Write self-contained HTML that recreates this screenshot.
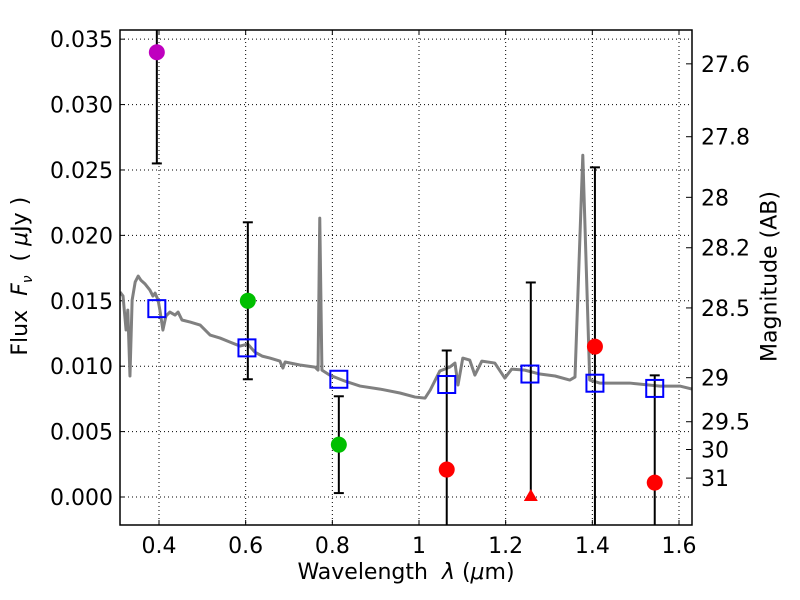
<!DOCTYPE html>
<html><head><meta charset="utf-8"><style>
html,body{margin:0;background:#fff;width:800px;height:600px;overflow:hidden}
svg{font-family:"DejaVu Sans","Liberation Sans",sans-serif;display:block}
</style></head><body>
<svg id="c" width="800" height="600"></svg>
<script>
const specLam=[0.310,0.317,0.324,0.328,0.333,0.338,0.345,0.352,0.358,0.368,0.379,0.386,0.391,0.398,0.402,0.409,0.416,0.425,0.437,0.444,0.453,0.472,0.495,0.518,0.541,0.564,0.587,0.605,0.621,0.638,0.656,0.679,0.686,0.691,0.725,0.760,0.767,0.771,0.776,0.794,0.829,0.864,0.910,0.956,0.991,1.014,1.026,1.048,1.071,1.083,1.090,1.101,1.117,1.129,1.145,1.175,1.198,1.214,1.244,1.279,1.314,1.348,1.360,1.378,1.394,1.417,1.486,1.556,1.602,1.630];
const specFlux=[0.01567,0.01536,0.01277,0.01429,0.00925,0.01505,0.01643,0.01689,0.01658,0.01628,0.01582,0.01536,0.01559,0.01505,0.01429,0.01276,0.01383,0.01414,0.01391,0.01414,0.01353,0.01337,0.01314,0.01238,0.01215,0.01184,0.01154,0.01169,0.01108,0.01077,0.01062,0.01039,0.00986,0.01032,0.01009,0.00993,0.00970,0.02132,0.00970,0.00932,0.00886,0.00848,0.00825,0.00795,0.00764,0.00756,0.00818,0.00963,0.00993,0.01024,0.00856,0.01062,0.01047,0.00932,0.01039,0.01024,0.00909,0.00978,0.00970,0.00940,0.00925,0.00894,0.00917,0.02613,0.00894,0.00871,0.00871,0.00848,0.00848,0.00825];
const modelLam=[0.395,0.603,0.815,1.064,1.256,1.406,1.544];
const modelFlux=[0.0144,0.0114,0.0090,0.0086,0.0094,0.0087,0.0083];
const obsLam=[0.395,0.605,0.815,1.064,1.258,1.406,1.544];
const obsFlux=[0.0340,0.0150,0.0040,0.0021,0.0000,0.0115,0.0011];
const obsErrUp=[0.0085,0.0060,0.0037,0.0091,0.0164,0.0137,0.0082];
const obsErrLo=[0.0085,0.0060,0.0037,0.0091,0.0,0.0137,0.0082];
const obsColor=['#bf00bf','#00bf00','#00bf00','#ff0000','#ff0000','#ff0000','#ff0000'];
const obsMarker=['o','o','o','o','^','o','o'];
const xTicks=[0.4,0.6,0.8,1.0,1.2,1.4,1.6];
const xTickLabels=['0.4','0.6','0.8','1','1.2','1.4','1.6'];
const yTicks=[0,0.005,0.010,0.015,0.020,0.025,0.030,0.035];
const yTickLabels=['0.000','0.005','0.010','0.015','0.020','0.025','0.030','0.035'];
const magTicks=[27.6,27.8,28,28.2,28.5,29,29.5,30,31];
const magTickLabels=['27.6','27.8','28','28.2','28.5','29','29.5','30','31'];

const L=120,R=692,T=30,B=525;
const X0=0.31,X1=1.63,Y0=-0.00214,Y1=0.0357;
const sx=v=>L+(v-X0)/(X1-X0)*(R-L);
const sy=v=>B-(v-Y0)/(Y1-Y0)*(B-T);
const svg=document.getElementById('c');
const NS='http://www.w3.org/2000/svg';
function mk(tag,attrs,parent){const e=document.createElementNS(NS,tag);for(const k in attrs)e.setAttribute(k,attrs[k]);(parent||svg).appendChild(e);return e;}
const clip=mk('clipPath',{id:'pc'});mk('rect',{x:L,y:T,width:R-L,height:B-T},clip);

xTicks.forEach((v,i)=>{
 const g=mk('line',{x1:sx(v),x2:sx(v),y1:T,y2:B,stroke:'#000','stroke-width':1,'stroke-dasharray':'1,3'});
 
 
 mk('line',{x1:sx(v),x2:sx(v),y1:B,y2:B-5,stroke:'#000'});
 mk('line',{x1:sx(v),x2:sx(v),y1:T,y2:T+5,stroke:'#000'});
 const t=mk('text',{x:sx(v),y:B+28,'text-anchor':'middle','font-size':22});t.textContent=xTickLabels[i];
 
 
});
yTicks.forEach((v,i)=>{
 const g=mk('line',{x1:L,x2:R,y1:sy(v),y2:sy(v),stroke:'#000','stroke-width':1,'stroke-dasharray':'1,3'});
 
 
 mk('line',{x1:L,x2:L+5,y1:sy(v),y2:sy(v),stroke:'#000'});
 const t=mk('text',{x:L-7,y:sy(v)+8,'text-anchor':'end','font-size':22});t.textContent=yTickLabels[i];
 
 
});
magTicks.forEach((m,i)=>{
 const f=Math.pow(10,(23.9-m)/2.5);const y=sy(f);
 mk('line',{x1:R,x2:R-6,y1:y,y2:y,stroke:'#000'});
 const t=mk('text',{x:R+9,y:y+8,'font-size':22});t.textContent=magTickLabels[i];
 
 
});

const pg=mk('g',{'clip-path':'url(#pc)'});
const sp=mk('polyline',{points:specLam.map((v,i)=>sx(v)+','+sy(specFlux[i])).join(' '),fill:'none',stroke:'#808080','stroke-width':3,'stroke-linejoin':'round'},pg);



obsLam.forEach((v,i)=>{
 const yt=sy(obsFlux[i]+obsErrUp[i]),yb=sy(obsFlux[i]-obsErrLo[i]);
 const e=mk('line',{x1:sx(v),x2:sx(v),y1:yt,y2:yb,stroke:'#000','stroke-width':2},pg);
 
 
 mk('line',{x1:sx(v)-5,x2:sx(v)+5,y1:yt,y2:yt,stroke:'#000','stroke-width':2},pg);
 if(obsErrLo[i]>0)mk('line',{x1:sx(v)-5,x2:sx(v)+5,y1:yb,y2:yb,stroke:'#000','stroke-width':2},pg);
});
modelLam.forEach((v,i)=>{
 const r=mk('rect',{x:sx(v)-8.5,y:sy(modelFlux[i])-8.5,width:17,height:17,fill:'none',stroke:'#0000ff','stroke-width':2},pg);
 
 
});
obsLam.forEach((v,i)=>{
 const x=sx(v),y=sy(obsFlux[i]);let m;
 if(obsMarker[i]==='^')m=mk('polygon',{points:`${x},${y-8} ${x-7},${y+4} ${x+7},${y+4}`,fill:obsColor[i]},pg);
 else m=mk('circle',{cx:x,cy:y,r:8,fill:obsColor[i]},pg);
 
 
});
const fr=mk('rect',{x:L,y:T,width:R-L,height:B-T,fill:'none',stroke:'#000','stroke-width':1.5});


</script>
<div style="position:absolute;left:0;top:0;width:800px;height:600px;pointer-events:none;font-family:'DejaVu Sans','Liberation Sans',sans-serif">
<div style="position:absolute;left:206px;top:560px;width:400px;text-align:center;font-size:22px">Wavelength&nbsp; <i>λ</i> (<i>μ</i>m)</div>
<div style="position:absolute;left:-178px;top:262px;width:400px;text-align:center;font-size:22px;transform:rotate(-90deg)">Flux&nbsp; <i>F<sub style="font-size:14px">ν</sub></i>&nbsp; ( <i>μ</i>Jy )</div>
<div style="position:absolute;left:570px;top:264px;width:400px;text-align:center;font-size:22px;transform:rotate(-90deg)">Magnitude (AB)</div>
</div>
</body></html>
